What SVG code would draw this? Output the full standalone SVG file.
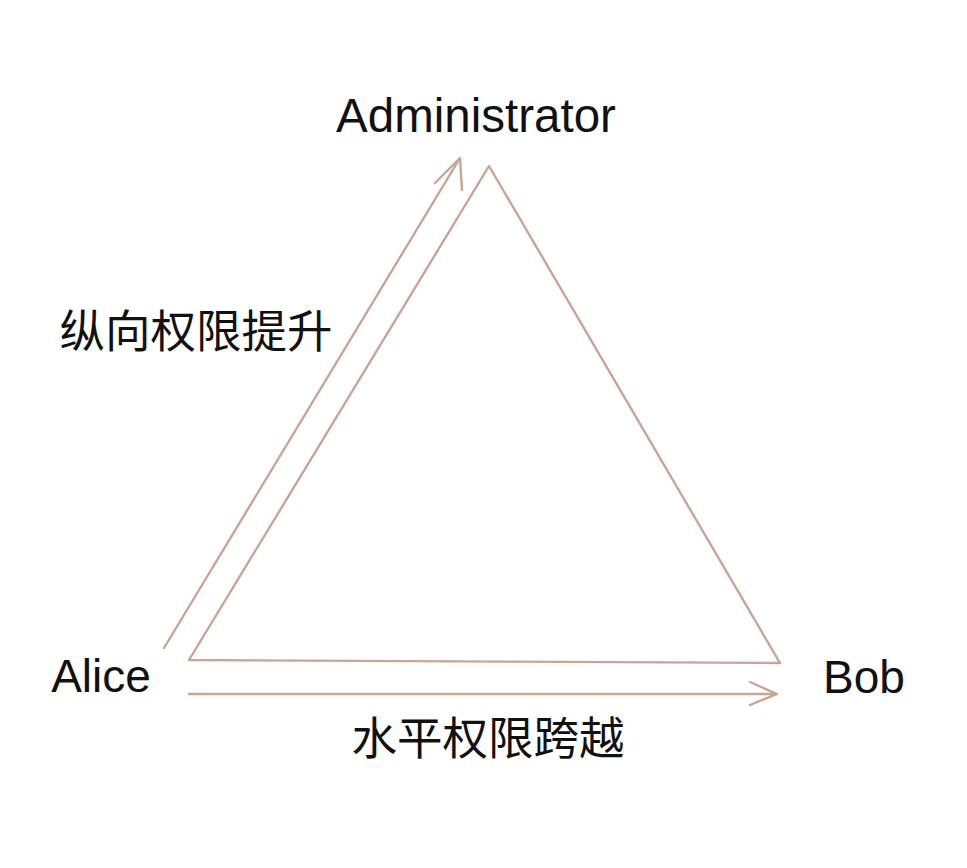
<svg xmlns="http://www.w3.org/2000/svg" width="967" height="868" viewBox="0 0 967 868">
<style>
.ln{fill:none;stroke:#c9a596;stroke-width:2.4;stroke-linecap:round;stroke-linejoin:round}
.lb{font-family:"Liberation Sans","Noto Sans CJK SC",sans-serif;fill:#111}
.cn{font-family:"Noto Sans CJK SC",sans-serif;fill:#111;font-size:45.5px}
</style>
<rect width="967" height="868" fill="#fff"/>
<g id="triangle"><polygon class="ln" points="489,166 189,660 780,663"/></g>
<g id="connectors">
<path class="ln" d="M164,648 L460,158 M435,183 L460,158 L462,190"/>
<path class="ln" d="M189,694 L777,694 M750,682 L777,694 L750,705"/>
</g>
<g id="admin"><text class="lb" x="476" y="132" font-size="47.5" text-anchor="middle">Administrator</text></g>
<g id="alice"><text class="lb" x="101" y="692" font-size="46" text-anchor="middle">Alice</text></g>
<g id="bob"><text class="lb" x="864" y="693" font-size="46" text-anchor="middle">Bob</text></g>
<g id="label-vertical"><text class="cn" x="196" y="348" text-anchor="middle">纵向权限提升</text></g>
<g id="label-horizontal"><text class="cn" x="488" y="755" text-anchor="middle">水平权限跨越</text></g>
</svg>
